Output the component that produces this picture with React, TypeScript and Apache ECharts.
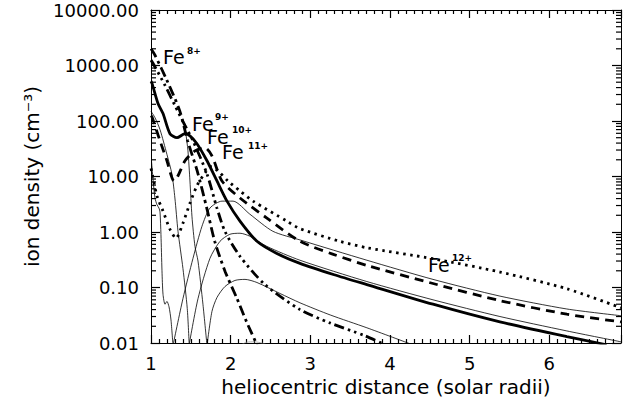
import React, { useEffect, useRef } from "react";
import * as echarts from "echarts";

// ---- data (x = heliocentric distance, y = ion density) ----
const fe8DashDot: [number, number][] = [
  [1.0, 2000], [1.05, 1530], [1.2, 540], [1.36, 154], [1.46, 44], [1.58, 12.6],
  [1.7, 2.7], [1.8, 0.68], [1.93, 0.195], [2.08, 0.063], [2.2, 0.024], [2.33, 0.0093],
];
const feDashDotDot: [number, number][] = [
  [1.0, 1250], [1.025, 1096], [1.176, 438], [1.3, 190], [1.427, 83], [1.527, 44],
  [1.703, 11.1], [1.828, 2.7], [1.928, 1.03], [2.117, 0.365], [2.43, 0.113],
  [2.87, 0.04], [3.246, 0.023], [3.685, 0.0135], [3.936, 0.0093],
];
const fe9Solid: [number, number][] = [
  [1.0, 520], [1.013, 477], [1.088, 207], [1.151, 136], [1.238, 59], [1.326, 50],
  [1.427, 59], [1.489, 54], [1.577, 39], [1.703, 19.2], [1.828, 8.3], [1.954, 3.6],
  [2.117, 1.57], [2.33, 0.68], [2.58, 0.41], [2.87, 0.272], [3.3, 0.17], [3.71, 0.113],
  [4.54, 0.05], [5.38, 0.024], [6.22, 0.013], [6.72, 0.0093],
];
const fe10Dashed: [number, number][] = [
  [1.0, 125], [1.013, 118], [1.113, 44], [1.2, 19.2], [1.289, 8.3], [1.339, 10.3],
  [1.427, 19.2], [1.552, 29], [1.678, 33], [1.765, 23.6], [1.891, 8.3], [2.117, 4.1],
  [2.455, 1.78], [2.87, 0.68], [3.28, 0.4], [3.71, 0.25], [4.54, 0.118], [5.38, 0.058],
  [6.22, 0.033], [6.9, 0.024],
];
const fe12Dotted: [number, number][] = [
  [1.0, 14], [1.013, 11.6], [1.075, 4.46], [1.151, 2.38], [1.238, 1.12], [1.314, 0.77],
  [1.401, 1.44], [1.489, 3.3], [1.577, 6.8], [1.678, 11.6], [1.753, 15], [1.84, 12.6],
  [1.966, 8.3], [2.117, 5.5], [2.28, 3.61], [2.706, 1.57], [2.87, 1.15], [3.37, 0.68],
  [3.71, 0.52], [4.54, 0.33], [5.38, 0.19], [6.22, 0.095], [6.9, 0.043],
];
const thinPeak36: [number, number][] = [
  [1.276, 0.009], [1.401, 0.063], [1.527, 0.335], [1.64, 1.27], [1.74, 2.7],
  [1.891, 3.6], [2.03, 3.6], [2.24, 2.1], [2.53, 1.03], [2.87, 0.72], [3.71, 0.31],
  [4.54, 0.14], [5.38, 0.07], [6.22, 0.041], [6.9, 0.031],
];
const thinPeak10: [number, number][] = [
  [1.477, 0.009], [1.59, 0.063], [1.74, 0.335], [1.866, 0.68], [1.99, 0.91],
  [2.117, 0.95], [2.24, 0.84], [2.455, 0.55], [2.87, 0.31], [3.71, 0.128],
  [4.54, 0.06], [5.38, 0.03], [6.22, 0.0165], [6.9, 0.0105],
];
const thinPeak014: [number, number][] = [
  [1.703, 0.009], [1.765, 0.037], [1.828, 0.066], [1.928, 0.104], [2.054, 0.134],
  [2.18, 0.14], [2.33, 0.123], [2.62, 0.078], [2.87, 0.053], [3.25, 0.032],
  [3.71, 0.0188], [4.25, 0.0097],
];
const thinLeftWiggle: [number, number][] = [
  [1.006, 19.2], [1.025, 9], [1.05, 4.1], [1.075, 3.1], [1.1, 2.7], [1.113, 2.3],
  [1.125, 0.9], [1.138, 0.2], [1.151, 0.075], [1.176, 0.05], [1.2, 0.056],
  [1.226, 0.045], [1.251, 0.026], [1.276, 0.009],
];
const thinFrom100: [number, number][] = [
  [1.0, 150], [1.05, 115], [1.113, 70], [1.2, 25], [1.263, 11], [1.3, 4.1],
  [1.339, 1.03], [1.401, 0.22], [1.455, 0.042], [1.48, 0.009],
];
const thinFromBump: [number, number][] = [
  [1.44, 56], [1.464, 29], [1.489, 8.3], [1.514, 1.93], [1.552, 0.55], [1.59, 0.3],
  [1.652, 0.05], [1.703, 0.009],
];
const thinBottomBump: [number, number][] = [
  [2.1, 0.0088], [2.2, 0.0103], [2.3, 0.0105], [2.4, 0.0099], [2.5, 0.0088],
];

const yMajorTicks = [0.01, 0.1, 1, 10, 100, 1000, 10000];
const xTickLabels = ["1", "2", "3", "4", "5", "6"];
const ionLabels = [
  { ion: "Fe", charge: "8+", x: 163, y: 57, sx: 187, sy: 51 },
  { ion: "Fe", charge: "9+", x: 192, y: 124, sx: 215, sy: 117 },
  { ion: "Fe", charge: "10+", x: 207, y: 137, sx: 232, sy: 130 },
  { ion: "Fe", charge: "11+", x: 222, y: 152, sx: 248, sy: 146 },
  { ion: "Fe", charge: "12+", x: 428, y: 265, sx: 452, sy: 258 },
];

const FONT = "DejaVu Sans";

export default function App() {
  const ref = useRef<HTMLDivElement>(null);
  useEffect(() => {
    if (!ref.current) return;
    const chart = echarts.init(ref.current, undefined, { renderer: "svg" });
    const black = "#000";

    const yMinor: number[] = [];
    for (let d = 0; d < yMajorTicks.length - 1; d++) {
      for (let m = 2; m <= 9; m++) yMinor.push(Number((yMajorTicks[d] * m).toPrecision(3)));
    }

    const tickStyle = { color: black, width: 1.2 };
    const xCommon = {
      type: "value" as const,
      min: 1,
      max: 6.9,
      interval: 1,
      splitLine: { show: false },
      axisLine: { show: true, onZero: false, lineStyle: { color: black, width: 1 } },
      axisTick: { show: true, inside: true, length: 8, lineStyle: tickStyle },
      minorTick: { show: true, splitNumber: 10, length: 4, lineStyle: tickStyle },
    };
    const yCommon = {
      type: "log" as const,
      logBase: 10,
      min: 0.01,
      max: 10000,
      splitLine: { show: false },
      axisTick: { show: true, inside: true, length: 9, lineStyle: tickStyle },
      axisLine: { show: true, onZero: false, lineStyle: { color: black, width: 1 } },
    };

    const line = (data: [number, number][], width: number, type: any, color = black, z = 3) => ({
      type: "line",
      data,
      xAxisIndex: 0,
      yAxisIndex: 0,
      showSymbol: false,
      symbol: "none",
      smooth: 0.25,
      clip: true,
      silent: true,
      z,
      lineStyle: { color, width, type },
    });

    chart.setOption({
      animation: false,
      backgroundColor: "#fff",
      grid: { left: 151, right: 2, top: 10, bottom: 67 },
      xAxis: [
        {
          ...xCommon,
          position: "bottom",
          axisLabel: {
            color: black,
            fontSize: 18,
            fontFamily: FONT,
            margin: 11,
            showMaxLabel: false,
            formatter: (v: number) => (Number.isInteger(v) ? xTickLabels[v - 1] ?? "" : ""),
          },
          name: "heliocentric distance (solar radii)",
          nameLocation: "middle",
          nameGap: 32,
          nameTextStyle: { color: black, fontSize: 20, fontFamily: FONT },
        },
        { ...xCommon, position: "top", axisLabel: { show: false } },
      ],
      yAxis: [
        {
          ...yCommon,
          position: "left",
          axisLabel: {
            color: black,
            fontSize: 18,
            fontFamily: FONT,
            margin: 12,
            formatter: (v: number) => v.toFixed(2),
          },
          name: "ion density (cm\u207B\u00B3)",
          nameLocation: "middle",
          nameRotate: 90,
          nameGap: 109,
          nameTextStyle: { color: black, fontSize: 20, fontFamily: FONT },
        },
        { ...yCommon, position: "right", axisLabel: { show: false } },
      ],
      series: [
        line(thinLeftWiggle, 0.8, "solid", black, 2),
        line(thinFrom100, 0.8, "solid", black, 2),
        line(thinFromBump, 0.8, "solid", black, 2),
        line(thinPeak36, 0.8, "solid", black, 2),
        line(thinPeak10, 0.8, "solid", black, 2),
        line(thinPeak014, 0.8, "solid", black, 2),
        line(thinBottomBump, 0.8, "solid", "#999", 2),
        line(fe8DashDot, 2.8, [10, 4, 3, 4]),
        line(feDashDotDot, 2.8, [10, 4, 2.5, 4, 2.5, 4, 2.5, 4]),
        line(fe9Solid, 2.8, "solid"),
        line(fe10Dashed, 2.8, [9, 6]),
        line(fe12Dotted, 2.8, [2.5, 4.5]),
      ],
    });

    // logarithmic minor ticks (2..9 in each decade) on left and right, placed through the axis scale
    const px = (v: number) => chart.convertToPixel({ xAxisIndex: 0 }, v) as number;
    const py = (v: number) => chart.convertToPixel({ yAxisIndex: 0 }, v) as number;
    const xL = px(1);
    const xR = px(6.9);
    const graphics: any[] = [];
    yMinor.forEach((v) => {
      const y = py(v);
      graphics.push({
        type: "line", z: 50, silent: true,
        shape: { x1: xL, y1: y, x2: xL + 5, y2: y },
        style: { stroke: black, lineWidth: 1.2 },
      });
      graphics.push({
        type: "line", z: 50, silent: true,
        shape: { x1: xR, y1: y, x2: xR - 5, y2: y },
        style: { stroke: black, lineWidth: 1.2 },
      });
    });

    ionLabels.forEach((l) => {
      graphics.push({
        type: "text", x: l.x, y: l.y, z: 60,
        style: { text: l.ion, fill: black, font: `19px '${FONT}'`, verticalAlign: "middle" },
      });
      graphics.push({
        type: "text", x: l.sx, y: l.sy, z: 60,
        style: { text: l.charge, fill: black, font: `bold 9px '${FONT}'`, verticalAlign: "middle" },
      });
    });
    graphics.push({
      type: "text",
      x: px(6.9) + (px(6.9) - px(5.9)) * 0.1,
      y: 364,
      z: 60,
      style: { text: "7", fill: black, font: `18px '${FONT}'`, align: "center", verticalAlign: "middle" },
    });

    chart.setOption({ graphic: graphics });
    return () => chart.dispose();
  }, []);
  return (
    <div
      ref={ref}
      style={{ position: "fixed", left: 0, top: 0, width: 623, height: 410, background: "#fff" }}
    />
  );
}
